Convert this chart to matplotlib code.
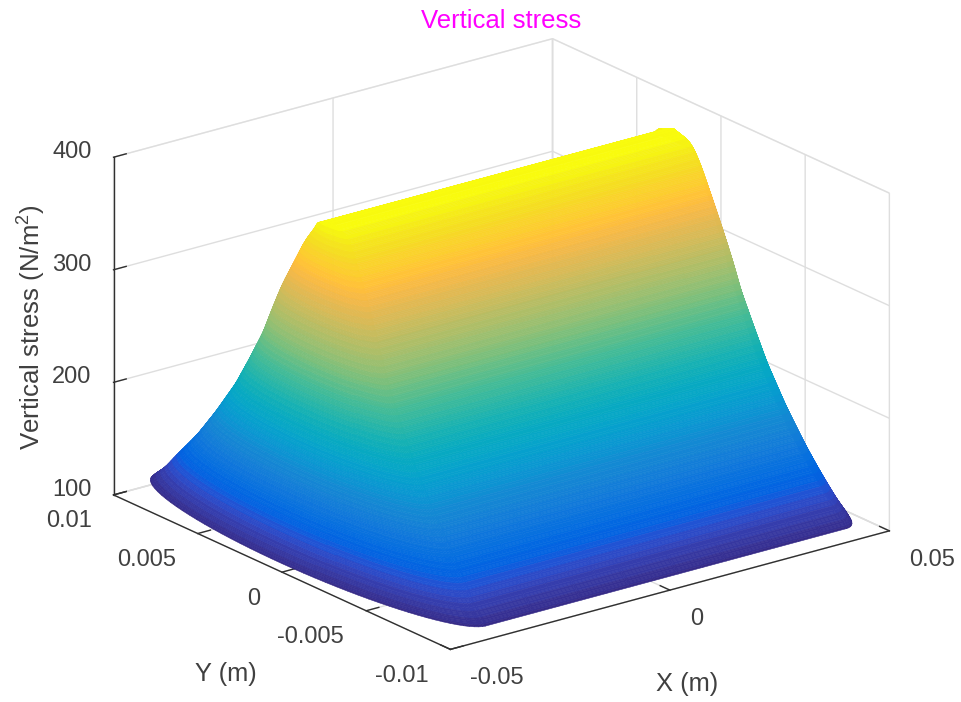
import numpy as np
import matplotlib
matplotlib.use("Agg")
import matplotlib.pyplot as plt
from matplotlib.colors import ListedColormap, Normalize
from mpl_toolkits.mplot3d import proj3d

plt.rcParams['font.family'] = ['Liberation Sans', 'DejaVu Sans']
plt.rcParams['mathtext.fontset'] = 'custom'
plt.rcParams['mathtext.rm'] = 'Liberation Sans'
plt.rcParams['mathtext.default'] = 'regular'

# Values: one entry per stress level
stress_levels = [109, 112, 120, 138, 162, 191, 223, 250, 278, 302, 327, 351, 374, 385, 392, 397, 399.3, 400]
half_width = [.0097, .0096, .0091, .0084, .0074, .0063, .0052, .00445, .0037, .0032, .00267,
              .00213, .0016, .0013, .00105, .0007, .0004, 0.0]
back_extra = [.0002, .0002, .00015, .0001, .00005, .00003, 0, 0, 0, 0, 0, -.0001, -.0002, -.0003,
              -.00035, -.0003, -.0002, 0]
ridge_left = [-.0408, -.0408, -.0407, -.0404, -.040, -.040, -.040, -.0398, -.0397, -.0396, -.0394,
              -.0392, -.0392, -.0391, -.039, -.039, -.039, -.039]
ridge_right = [.0414, .0414, .0412, .0405, .0402, .040, .040, .040, .040, .040, .0398, .0396, .0394,
               .0393, .0392, .0392, .0392, .0392]
stress_limits = (105, 400)
x_ticks = [-0.05, 0, 0.05]
y_ticks = [-0.01, -0.005, 0, 0.005, 0.01]
z_ticks = [100, 200, 300, 400]
x_ticklabels = ['-0.05', '0', '0.05']
y_ticklabels = ['-0.01', '-0.005', '0', '0.005', '0.01']
z_ticklabels = ['100', '200', '300', '400']
title_text = 'Vertical stress'
x_label = 'X (m)'
y_label = 'Y (m)'
z_label = 'Vertical stress (N/m$^2$)'

parula_rows = [
 [0.2081,0.1663,0.5292],[0.2116,0.1898,0.5777],[0.2123,0.2138,0.6270],[0.2081,0.2386,0.6771],
 [0.1959,0.2645,0.7279],[0.1707,0.2919,0.7792],[0.1253,0.3242,0.8303],[0.0591,0.3598,0.8683],
 [0.0117,0.3875,0.8820],[0.0060,0.4086,0.8828],[0.0165,0.4266,0.8786],[0.0329,0.4430,0.8720],
 [0.0498,0.4586,0.8641],[0.0629,0.4737,0.8554],[0.0723,0.4887,0.8467],[0.0779,0.5040,0.8384],
 [0.0793,0.5200,0.8312],[0.0749,0.5375,0.8263],[0.0641,0.5570,0.8240],[0.0488,0.5772,0.8228],
 [0.0343,0.5966,0.8199],[0.0265,0.6137,0.8135],[0.0239,0.6287,0.8038],[0.0231,0.6418,0.7913],
 [0.0228,0.6535,0.7768],[0.0267,0.6642,0.7607],[0.0384,0.6743,0.7436],[0.0590,0.6838,0.7254],
 [0.0843,0.6928,0.7062],[0.1133,0.7015,0.6859],[0.1453,0.7098,0.6646],[0.1801,0.7177,0.6424],
 [0.2178,0.7250,0.6193],[0.2586,0.7317,0.5954],[0.3022,0.7376,0.5712],[0.3482,0.7424,0.5473],
 [0.3953,0.7459,0.5244],[0.4420,0.7481,0.5033],[0.4871,0.7491,0.4840],[0.5300,0.7491,0.4661],
 [0.5709,0.7485,0.4494],[0.6099,0.7473,0.4337],[0.6473,0.7456,0.4188],[0.6834,0.7435,0.4044],
 [0.7184,0.7411,0.3905],[0.7525,0.7384,0.3768],[0.7858,0.7356,0.3633],[0.8185,0.7327,0.3498],
 [0.8507,0.7299,0.3360],[0.8824,0.7274,0.3217],[0.9139,0.7258,0.3063],[0.9450,0.7261,0.2886],
 [0.9739,0.7314,0.2666],[0.9938,0.7455,0.2403],[0.9990,0.7653,0.2164],[0.9955,0.7861,0.1967],
 [0.9880,0.8066,0.1794],[0.9789,0.8271,0.1633],[0.9697,0.8481,0.1475],[0.9626,0.8705,0.1309],
 [0.9589,0.8949,0.1132],[0.9598,0.9218,0.0948],[0.9661,0.9514,0.0755],[0.9763,0.9831,0.0538]]
parula = ListedColormap(parula_rows, name='parula')

TEXT = '#404040'
GRID = '#dedede'
AXIS = '#303030'

fig = plt.figure(figsize=(9.61, 7.02), dpi=100)
S = 1000
ax = fig.add_axes([-12.05 / 961, -155.55 / 702, S / 961, S / 702], projection='3d', proj_type='ortho',
                  computed_zorder=False)
ax.patch.set_visible(False)
fig.patch.set_facecolor('white')
ax.set_box_aspect((1, 1, 0.652), zoom=0.8365)
ax.view_init(elev=20.6, azim=-127.5)
ax.set_xlim(-0.05, 0.05)
ax.set_ylim(-0.01, 0.01)
ax.set_zlim(100, 400)


def smooth(values, win=15):
    pad = np.pad(values, win // 2, mode='reflect', reflect_type='odd')
    return np.convolve(pad, np.ones(win) / win, mode='valid')


# Surface: the camera-facing part of rounded contours around the ridge
z_fine = np.linspace(stress_levels[0], stress_levels[-1], 400)
w_fine = smooth(np.interp(z_fine, stress_levels, half_width))
xl_fine = smooth(np.interp(z_fine, stress_levels, ridge_left), 31)
xr_fine = smooth(np.interp(z_fine, stress_levels, ridge_right), 31)
ex_fine = smooth(np.interp(z_fine, stress_levels, back_extra), 31)

w_uniform = np.linspace(w_fine[0], 0.0, 70)
z_rows = np.unique(np.concatenate([np.linspace(z_fine[0], z_fine[-1], 230),
                                   np.interp(w_uniform, w_fine[::-1], z_fine[::-1])]))
w_rows = np.interp(z_rows, z_fine, w_fine)
xl = np.interp(z_rows, z_fine, xl_fine)
xr = np.interp(z_rows, z_fine, xr_fine)
extra = np.interp(z_rows, z_fine, ex_fine)

s = np.linspace(0, 1, 16)
ang_r = np.radians(np.linspace(-45, -90, 14))
ang_l = np.radians(np.linspace(270, 88, 50))
X = np.hstack([xr[:, None] + w_rows[:, None] * np.cos(ang_r)[None, :],
               xr[:, None] + (xl - xr)[:, None] * s[None, :],
               xl[:, None] + w_rows[:, None] * np.cos(ang_l)[None, :]])
sin_l = np.sin(ang_l)[None, :]
Y = np.hstack([w_rows[:, None] * np.sin(ang_r)[None, :],
               -w_rows[:, None] * np.ones_like(s)[None, :],
               w_rows[:, None] * sin_l + extra[:, None] * np.clip(sin_l, 0, None)])
Z = np.repeat(z_rows[:, None], X.shape[1], axis=1)
norm = Normalize(*stress_limits)

# Upper part of the far side of the ridge with its right-hand end, just behind the crest
top = z_rows >= 385
ang_b = np.radians(np.linspace(90, -45, 24))
Xb = np.hstack([xl[top, None] + (xr - xl)[top, None] * s[None, :],
                xr[top, None] + w_rows[top, None] * np.cos(ang_b)[None, :]])
Yb = np.hstack([(w_rows + extra)[top, None] * np.ones_like(s)[None, :],
                w_rows[top, None] * np.sin(ang_b)[None, :]])
Zb = np.repeat(z_rows[top, None], Xb.shape[1], axis=1)
ax.plot_surface(Xb, Yb, Zb, facecolors=parula(norm(Zb)), rstride=1, cstride=1,
                shade=False, linewidth=0.4, antialiased=True, zorder=2)
ax.plot_surface(X, Y, Z, facecolors=parula(norm(Z)), rstride=1, cstride=1,
                shade=False, linewidth=0.4, antialiased=True, zorder=3)

for axis in (ax.xaxis, ax.yaxis, ax.zaxis):
    axis.pane.set_facecolor((1, 1, 1, 0))
    axis.pane.set_edgecolor(GRID)
    axis.line.set_color(AXIS)
    axis.line.set_linewidth(1.0)
    axis._axinfo['grid'].update(color=GRID, linewidth=1.0)
    axis._axinfo['tick'].update(inward_factor=0.0, outward_factor=0.36,
                                linewidth={True: 1.0, False: 1.0}, color=AXIS)

ax.set_xticks(x_ticks, [''] * len(x_ticks))
ax.set_yticks(y_ticks, [''] * len(y_ticks))
ax.set_zticks(z_ticks, [''] * len(z_ticks))
ax.tick_params(axis='both', colors=AXIS)

M = ax.get_proj()


def mark(text, point, dx, dy, ha, size=17, **kw):
    px, py, _ = proj3d.proj_transform(*point, M)
    ax.annotate(text, xy=(px, py), xycoords='data', xytext=(dx, -dy), textcoords='offset pixels',
                ha=ha, va='center', fontsize=size, color=TEXT, annotation_clip=False, zorder=5, **kw)


for v, t in zip(x_ticks, x_ticklabels):
    mark(t, (v, -0.01, 100), 20, 29, 'left')
for v, t in zip(y_ticks, y_ticklabels):
    mark(t, (-0.05, v, 100), -22, 26.5, 'right')
for v, t in zip(z_ticks, z_ticklabels):
    mark(t, (-0.05, 0.01, v), -22, -5, 'right')

mark(x_label, (0, -0.01, 100), 17, 94, 'center', size=18.4)
mark(y_label, (-0.05, 0, 100), -56, 102, 'center', size=18.4)
mark(z_label, (-0.05, 0.01, 250), -82, 1, 'center', size=18.6, rotation=90)
fig.text(501 / 961, 1 - 21 / 702, title_text, color='#ff00ff', fontsize=18.5, ha='center', va='center')

fig.savefig('out.png', dpi=100)
